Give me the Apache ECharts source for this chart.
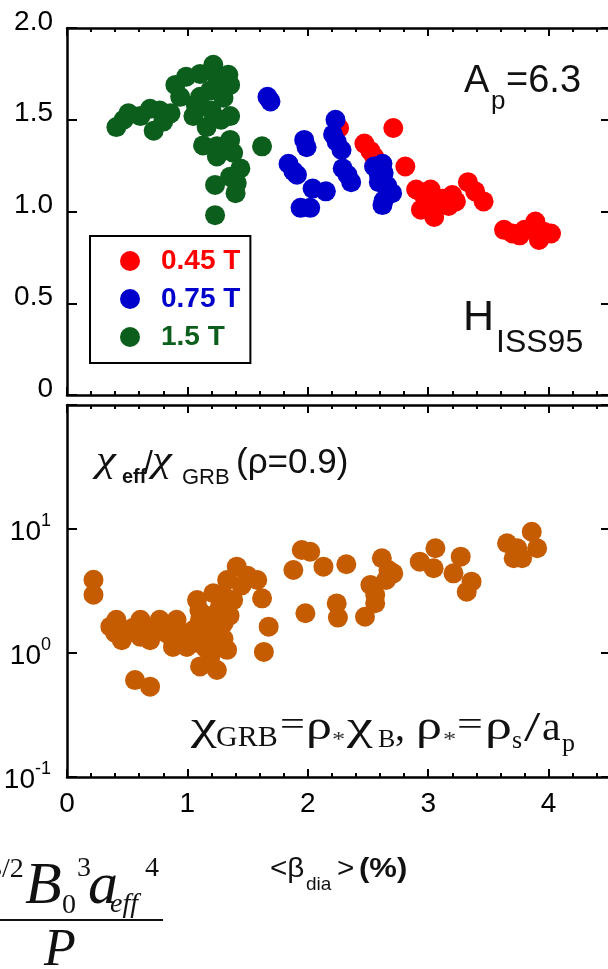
<!DOCTYPE html>
<html><head><meta charset="utf-8">
<script src="https://cdn.jsdelivr.net/npm/echarts@6/dist/echarts.min.js"></script>
<style>html,body{margin:0;padding:0;background:#fff}#c{width:608px;height:969px}</style>
</head><body><div id="c"></div>
<script>
// ---------- data ----------
const xTickValues = [0, 1, 2, 3, 4];
const topYTicks = [0, 0.5, 1.0, 1.5, 2.0];
const logYTicks = [0.1, 1, 10, 100];
const legendNames = ['0.45 T', '0.75 T', '1.5 T'];
const seriesColors = ['#ff0000', '#0000cc', '#0b5e1c'];

const red045 = [[2.26,1.455],[2.47,1.37],[2.52,1.33],[2.55,1.30],[2.71,1.455],[2.81,1.245],[2.90,1.12],[2.95,1.10],[3.02,1.12],[2.94,1.01],[2.99,1.035],[3.05,0.97],[3.10,1.05],[3.12,1.07],[3.20,1.09],[3.23,1.055],[3.17,1.03],[3.33,1.16],[3.39,1.11],[3.46,1.055],[3.63,0.90],[3.70,0.88],[3.76,0.87],[3.80,0.90],[3.89,0.945],[3.92,0.845],[4.02,0.88],[3.96,0.89]];
const blue075 = [[1.665,1.625],[1.69,1.60],[1.84,1.26],[1.88,1.22],[1.91,1.20],[1.97,1.39],[1.99,1.35],[2.04,1.125],[2.15,1.11],[1.94,1.02],[2.02,1.02],[2.23,1.50],[2.21,1.42],[2.24,1.38],[2.28,1.335],[2.29,1.235],[2.33,1.20],[2.36,1.16],[2.55,1.245],[2.59,1.20],[2.62,1.26],[2.63,1.21],[2.66,1.14],[2.59,1.16],[2.70,1.10],[2.63,1.06],[2.62,1.035],[2.66,1.09]];
const green15 = [[0.41,1.46],[0.47,1.50],[0.51,1.535],[0.61,1.52],[0.69,1.56],[0.72,1.44],[0.77,1.55],[0.80,1.49],[0.86,1.535],[0.90,1.69],[0.94,1.625],[0.99,1.735],[1.05,1.52],[1.07,1.58],[1.105,1.75],[1.105,1.625],[1.16,1.46],[1.19,1.66],[1.215,1.80],[1.25,1.72],[1.30,1.62],[1.34,1.745],[1.355,1.69],[1.355,1.52],[1.13,1.36],[1.245,1.355],[1.355,1.39],[1.245,1.30],[1.38,1.32],[1.44,1.235],[1.355,1.19],[1.23,1.145],[1.40,1.10],[1.41,1.155],[1.23,0.98],[1.62,1.355],[1.20,1.55],[1.28,1.50]];
const chiRatio = [[0.22,3.9],[0.22,2.95],[0.36,1.63],[0.41,1.85],[0.455,1.27],[0.50,1.45],[0.40,1.45],[0.55,1.6],[0.61,1.85],[0.61,1.35],[0.69,1.27],[0.70,1.55],[0.77,1.85],[0.83,1.44],[0.85,1.6],[0.88,1.12],[0.91,1.85],[0.995,1.12],[0.95,1.45],[1.00,1.3],[1.05,1.53],[1.05,1.2],[1.08,2.67],[1.10,2.2],[1.105,1.85],[1.105,0.78],[1.15,1.6],[1.15,1.1],[1.16,1.35],[1.19,0.93],[1.20,2.0],[1.215,3.03],[1.245,0.73],[1.25,1.5],[1.25,1.1],[1.27,2.36],[1.30,1.74],[1.30,2.9],[1.30,1.3],[1.33,3.88],[1.33,1.06],[1.35,2.0],[1.38,2.67],[1.41,4.97],[1.45,3.5],[1.50,4.2],[1.58,3.88],[1.62,2.76],[1.675,1.63],[1.635,1.02],[0.565,0.605],[0.69,0.535],[1.88,4.67],[1.95,6.77],[2.02,6.56],[2.13,4.97],[1.98,2.09],[2.24,2.51],[2.25,1.93],[2.32,5.2],[2.475,1.96],[2.615,5.81],[2.67,4.67],[2.52,3.54],[2.65,3.88],[2.56,2.94],[2.56,2.52],[2.71,4.39],[2.93,5.45],[3.06,6.99],[3.045,4.82],[3.27,5.98],[3.21,4.39],[3.36,3.76],[3.32,3.12],[3.655,7.67],[3.71,5.81],[3.78,5.81],[3.74,6.99],[3.86,9.51],[3.905,6.99]];

// ---------- helpers ----------
const SANS = '"Liberation Sans", Arial, sans-serif';
const SERIF = '"Liberation Serif", "Times New Roman", serif';
const mctx = document.createElement('canvas').getContext('2d');
function txt(str, x, baseline, size, family, extra) {
  extra = extra || {};
  const font = (extra.style || '') + ' ' + (extra.weight || '') + ' ' + size + 'px ' + family;
  mctx.font = font; mctx.textBaseline = 'middle';
  const off = mctx.measureText('H').actualBoundingBoxDescent || size * 0.3;
  return { type: 'text', x: x, y: baseline - off, silent: true,
    scaleX: extra.sx || 1, originX: 0, originY: 0,
    style: { text: str, font: font, fill: extra.color || '#111', align: 'left', verticalAlign: 'middle' } };
}

const axisLineStyle = { color: '#000', width: 2.5 };
function xAx(grid, pos, showLabel) {
  return {
    type: 'value', gridIndex: grid, position: pos, min: 0, max: 5, interval: 1,
    axisLine: { show: true, onZero: false, lineStyle: axisLineStyle },
    axisTick: { show: true, inside: true, length: 8, lineStyle: { color: '#000', width: 2 } },
    minorTick: { show: true, splitNumber: 5, length: 4, lineStyle: { color: '#000', width: 2 } },
    splitLine: { show: false },
    axisLabel: { show: showLabel, margin: 13, fontSize: 28, fontFamily: SANS, color: '#000',
      formatter: v => xTickValues.includes(v) ? String(v) : '' }
  };
}
function linY(grid, pos, offset, showLabel) {
  return {
    type: 'value', gridIndex: grid, position: pos, offset: offset,
    min: topYTicks[0], max: topYTicks[topYTicks.length - 1], interval: 0.5,
    axisLine: { show: true, onZero: false, lineStyle: axisLineStyle },
    axisTick: { show: true, inside: true, length: 10, lineStyle: { color: '#000', width: 2 } },
    splitLine: { show: false },
    axisLabel: { show: showLabel, margin: 14, fontSize: 28, fontFamily: SANS, color: '#000',
      verticalAlign: 'bottom', lineHeight: 12,
      formatter: v => v === 0 ? '0' : v.toFixed(1) }
  };
}
function logY(grid, pos, offset, showLabel) {
  return {
    type: 'log', logBase: 10, gridIndex: grid, position: pos, offset: offset,
    min: logYTicks[0], max: logYTicks[logYTicks.length - 1],
    axisLine: { show: true, onZero: false, lineStyle: axisLineStyle },
    axisTick: { show: true, inside: true, length: 10, lineStyle: { color: '#000', width: 2 } },
    splitLine: { show: false },
    axisLabel: { show: showLabel, margin: 16, color: '#000',
      formatter: v => { const e = Math.round(Math.log10(v)); return e > 1 ? '' : '{b|10}{s|' + e + '}'; },
      rich: {
        b: { fontSize: 28, fontFamily: SANS, color: '#000', lineHeight: 34, verticalAlign: 'bottom' },
        s: { fontSize: 18, fontFamily: SANS, color: '#000', lineHeight: 18, verticalAlign: 'top' }
      } }
  };
}

const scatterBase = { type: 'scatter', symbol: 'circle', symbolSize: 20, silent: true };

const graphics = [
  // A_p = 6.3
  txt('A', 464, 92, 38, SANS),
  txt('p', 491, 109, 26, SANS),
  txt('=6.3', 506, 92, 38, SANS),
  // H_ISS95
  txt('H', 463, 330, 43, SANS),
  txt('ISS95', 496, 352, 32, SANS),
  // chi_eff / chi_GRB (rho=0.9)
  txt('χ', 96, 471, 36, SERIF, { style: 'italic', sx: 1.25 }),
  txt('eff', 122, 483, 20, SANS, { weight: 'bold' }),
  txt('/', 144, 473, 32, SANS),
  txt('χ', 152, 471, 36, SERIF, { style: 'italic', sx: 1.25 }),
  txt('GRB', 182, 484, 22, SANS),
  txt('(ρ=0.9)', 236, 473, 35, SANS),
  // chi_GRB = rho* chi_B, rho* = rho_s / a_p
  txt('χ', 191, 739, 40, SERIF, { sx: 1.45 }),
  txt('GRB', 216, 746, 30, SERIF),
  txt('=', 280, 735, 34, SERIF, { sx: 1.3 }),
  txt('ρ', 306, 739, 40, SERIF, { sx: 1.3 }),
  txt('*', 332, 746, 22, SERIF, { color: '#333', sx: 1.2 }),
  txt('χ', 347, 739, 40, SERIF, { sx: 1.45 }),
  txt('B', 378, 747, 26, SERIF),
  txt(',', 395, 740, 40, SERIF),
  txt('ρ', 416, 739, 40, SERIF, { sx: 1.3 }),
  txt('*', 443, 746, 22, SERIF, { color: '#333', sx: 1.2 }),
  txt('=', 457, 735, 34, SERIF, { sx: 1.35 }),
  txt('ρ', 485, 739, 40, SERIF, { sx: 1.35 }),
  txt('s', 512, 748, 26, SERIF),
  txt('/', 524, 741, 42, SERIF, { sx: 1.4 }),
  txt('a', 542, 740, 40, SERIF, { sx: 1.05 }),
  txt('p', 562, 751, 26, SERIF),
  // x axis title <beta_dia> (%)
  txt('<β', 270, 877, 27, SANS, { sx: 1.1 }),
  txt('dia', 306, 890, 19, SANS),
  txt('>', 337, 877, 27, SANS, { sx: 1.1 }),
  txt('(%)', 359, 877, 27, SANS, { weight: 'bold', sx: 1.15 }),
  // fraction at bottom left
  txt('3/2', -12, 877, 28, SERIF),
  txt('B', 25, 903, 60, SERIF, { style: 'italic' }),
  txt('0', 62, 913, 28, SERIF),
  txt('3', 77, 876, 28, SERIF),
  txt('a', 88, 903, 60, SERIF, { style: 'italic' }),
  txt('eff', 110, 912, 28, SERIF, { style: 'italic' }),
  txt('4', 145, 876, 28, SERIF),
  { type: 'line', silent: true, shape: { x1: 0, y1: 920, x2: 163, y2: 920 }, style: { stroke: '#111', lineWidth: 2 } },
  txt('P', 44, 965, 52, SERIF, { style: 'italic' })
];

const chart = echarts.init(document.getElementById('c'), null, { renderer: 'canvas' });
chart.setOption({
  animation: false,
  backgroundColor: '#fff',
  grid: [
    { left: 67, top: 28, width: 602, height: 367, outerBoundsMode: 'none', containLabel: false },
    { left: 67, top: 405, width: 602, height: 372, outerBoundsMode: 'none', containLabel: false }
  ],
  xAxis: [xAx(0, 'bottom', false), xAx(0, 'top', false), xAx(1, 'top', false), xAx(1, 'bottom', true)],
  yAxis: [linY(0, 'left', 0, true), linY(0, 'right', -58, false), logY(1, 'left', 0, true), logY(1, 'right', -58, false)],
  legend: {
    data: legendNames.map((n, i) => ({ name: n, textStyle: { color: seriesColors[i] } })),
    orient: 'vertical', left: 90, top: 236,
    padding: [11, 10, 12, 30], itemGap: 10, itemWidth: 20, itemHeight: 20,
    icon: 'circle', borderColor: '#000', borderWidth: 2, selectedMode: false,
    textStyle: { fontSize: 28, fontWeight: 'bold', fontFamily: SANS, padding: [0, 0, 0, 16] }
  },
  series: [
    Object.assign({}, scatterBase, { name: legendNames[0], xAxisIndex: 0, yAxisIndex: 0, data: red045, itemStyle: { color: seriesColors[0], opacity: 1 } }),
    Object.assign({}, scatterBase, { name: legendNames[1], xAxisIndex: 0, yAxisIndex: 0, data: blue075, itemStyle: { color: seriesColors[1], opacity: 1 } }),
    Object.assign({}, scatterBase, { name: legendNames[2], xAxisIndex: 0, yAxisIndex: 0, data: green15, itemStyle: { color: seriesColors[2], opacity: 1 } }),
    Object.assign({}, scatterBase, { name: 'chi', xAxisIndex: 3, yAxisIndex: 2, data: chiRatio, itemStyle: { color: '#c65c02', opacity: 1 } })
  ],
  graphic: { elements: graphics }
});
</script></body></html>
